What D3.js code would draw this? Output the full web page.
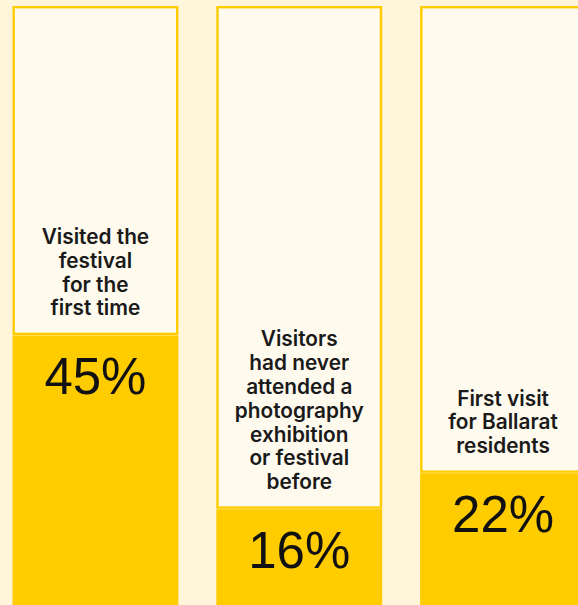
<!DOCTYPE html>
<html>
<head>
<meta charset="utf-8">
<script src="https://cdn.jsdelivr.net/npm/d3@7"></script>
<style>
  html, body { margin: 0; padding: 0; background: #fff5da; overflow: hidden; }
  svg { display: block; }
</style>
</head>
<body>
<svg id="chart" width="578" height="605"></svg>
<script>
const categories = ["first", "never", "ballarat"];
const values = [45, 16, 22];
const labels = [
  ["Visited the", "festival", "for the", "first time"],
  ["Visitors", "had never", "attended a", "photography", "exhibition", "or festival", "before"],
  ["First visit", "for Ballarat", "residents"]
];
const valueLabels = ["45%", "16%", "22%"];

const W = 578, H = 605;
const svg = d3.select("#chart");
svg.append("rect").attr("width", W).attr("height", H).attr("fill", "#fff5da");

const x = d3.scaleBand().domain(categories).range([12.5, 586]).paddingInner(38 / 204).paddingOuter(0);
const y = d3.scaleLinear().domain([0, 100]).range([605, 6]);

const g = svg.selectAll("g.col").data(categories).join("g").attr("class", "col");

// outlined remainder box
g.append("rect")
  .attr("x", d => x(d) + 1.2)
  .attr("y", y(100) + 1.2)
  .attr("width", x.bandwidth() - 2.4)
  .attr("height", (d, i) => y(values[i]) - 1.6 - (y(100) + 1.2))
  .attr("fill", "#fffaee")
  .attr("stroke", "#ffcc00")
  .attr("stroke-width", 2.4);

// filled bar
g.append("rect")
  .attr("x", d => x(d))
  .attr("y", (d, i) => y(values[i]))
  .attr("width", x.bandwidth())
  .attr("height", (d, i) => y(0) - y(values[i]))
  .attr("fill", "#ffcc00");

// label text
const lineH = 23.8;
g.each(function(d, i) {
  const lines = labels[i];
  const cx = x(d) + x.bandwidth() / 2;
  const lastBase = y(values[i]) - 20;
  const t = d3.select(this).append("text")
    .attr("text-anchor", "middle")
    .attr("font-family", "Inter, 'Noto Sans', sans-serif")
    .attr("font-weight", 600)
    .attr("font-size", 20.8)
    .attr("fill", "#1a1a1a");
  lines.forEach((ln, k) => {
    t.append("tspan")
      .attr("x", cx)
      .attr("y", lastBase - (lines.length - 1 - k) * lineH)
      .text(ln);
  });
});

// value text
g.append("text")
  .attr("x", d => x(d) + x.bandwidth() / 2)
  .attr("y", (d, i) => y(values[i]) + 59)
  .attr("text-anchor", "middle")
  .attr("font-family", "'Liberation Sans', Arial, sans-serif")
  .attr("font-weight", 400)
  .attr("font-size", 51)
  .attr("fill", "#111")
  .text((d, i) => valueLabels[i]);
</script>
</body>
</html>
